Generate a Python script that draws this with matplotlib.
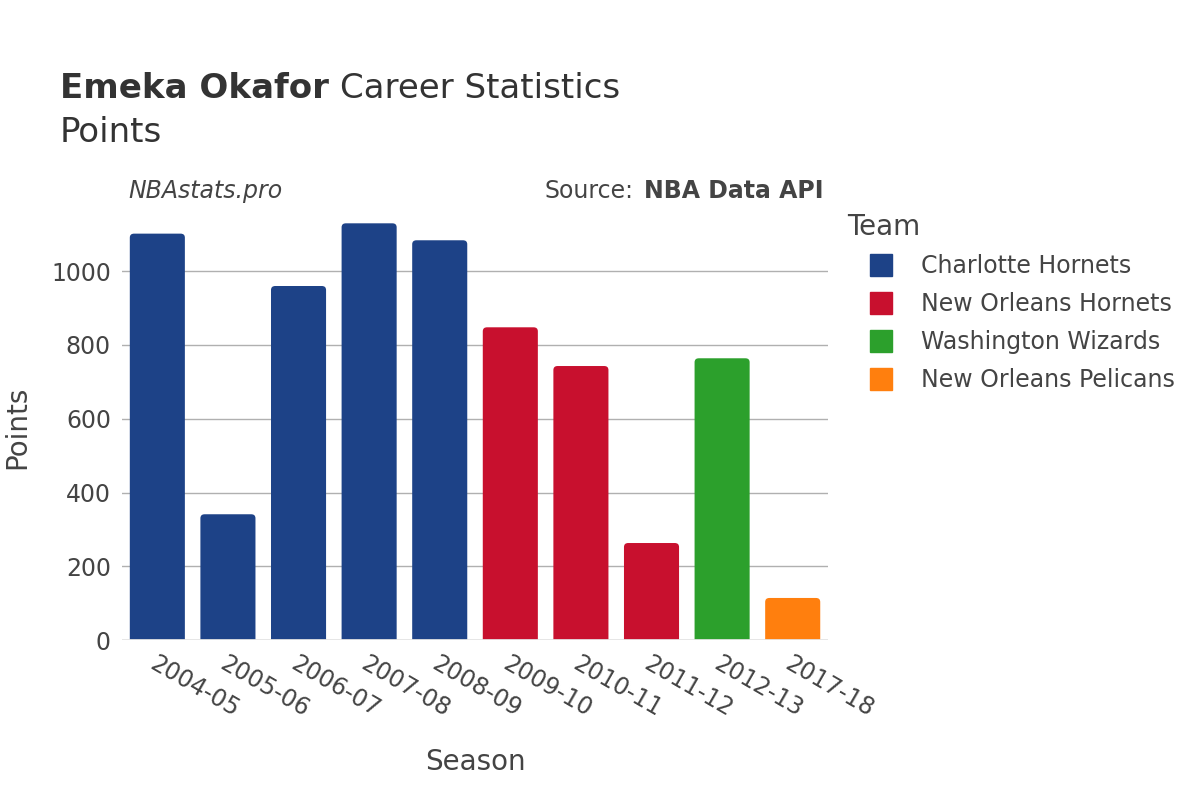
import matplotlib.pyplot as plt
from matplotlib.patches import FancyBboxPatch
from matplotlib.lines import Line2D

seasons = ["2004-05", "2005-06", "2006-07", "2007-08", "2008-09",
           "2009-10", "2010-11", "2011-12", "2012-13", "2017-18"]
points = [1102, 341, 960, 1130, 1084, 848, 743, 263, 764, 114]
teams = ["Charlotte Hornets"] * 5 + ["New Orleans Hornets"] * 3 + \
        ["Washington Wizards", "New Orleans Pelicans"]
team_colors = {
    "Charlotte Hornets": "#1d4287",
    "New Orleans Hornets": "#c8102e",
    "Washington Wizards": "#2ca02c",
    "New Orleans Pelicans": "#ff7f0e",
}

W, H = 1200, 800
fig = plt.figure(figsize=(12, 8), dpi=100)
ax = fig.add_axes([0.1017, 0.2, 0.5883, 0.531])
ymax = 1152
ax.set_xlim(-0.5, len(seasons) - 0.5)
ax.set_ylim(0, ymax)

# rounded-top bars
width = 0.78
for i, (p, t) in enumerate(zip(points, teams)):
    box = FancyBboxPatch((i - width / 2, -20), width, p + 20,
                         boxstyle="round,pad=0,rounding_size=0.06",
                         mutation_aspect=180, facecolor=team_colors[t],
                         edgecolor="none", zorder=3)
    ax.add_patch(box)

ax.set_yticks([0, 200, 400, 600, 800, 1000])
ax.yaxis.grid(True, color="#b0b0b0", linewidth=1, zorder=0)
ax.axhline(0, color="#e5e5e5", linewidth=2, zorder=4)
for s in ax.spines.values():
    s.set_visible(False)
ax.tick_params(length=0, labelsize=17, colors="#444444", pad=8)
ax.set_xticks(range(len(seasons)))
ax.set_xticklabels(seasons, rotation=-30, ha="left", rotation_mode="anchor")
ax.set_xlabel("Season", fontsize=20, color="#444444", labelpad=19)
ax.set_ylabel("Points", fontsize=20, color="#444444", ha="center", va="center")
ax.yaxis.set_label_coords(-0.148, 0.5)

dark = "#333333"
t1 = fig.text(60 / W, 1 - 88 / H, "Emeka Okafor", fontsize=24.5,
              fontweight="bold", color=dark, va="center")
fig.text(60 / W, 1 - 132 / H, "Points", fontsize=24.5, color=dark,
         va="center")
fig.text(128 / W, 1 - 191 / H, "NBAstats.pro", fontsize=17, style="italic",
         color="#444444", va="center")
s2 = fig.text(824 / W, 1 - 191 / H, "NBA Data API", fontsize=17,
              fontweight="bold", color="#444444", va="center", ha="right")

fig.canvas.draw()
r = fig.canvas.get_renderer()
b1 = t1.get_window_extent(r)
fig.text(b1.x1 / W + 0.009, 1 - 88 / H, "Career Statistics", fontsize=24.5,
         color=dark, va="center")
b2 = s2.get_window_extent(r)
fig.text(b2.x0 / W - 0.009, 1 - 191 / H, "Source:", fontsize=17,
         color="#444444", va="center", ha="right")

handles = [Line2D([], [], marker="s", linestyle="none", markersize=16,
                  markerfacecolor=c, markeredgecolor=c, label=t)
           for t, c in team_colors.items()]
leg = fig.legend(handles=handles, title="Team", loc="upper left",
                 bbox_to_anchor=(0.698, 0.745), frameon=False, fontsize=17,
                 title_fontsize=20, handlelength=2.9, handletextpad=0.25,
                 labelspacing=0.6, borderaxespad=0)
leg._legend_box.align = "left"
leg._legend_box.sep = 9
for txt in leg.get_texts():
    txt.set_color("#444444")
leg.get_title().set_color("#444444")

fig.savefig("out.png", dpi=100)
